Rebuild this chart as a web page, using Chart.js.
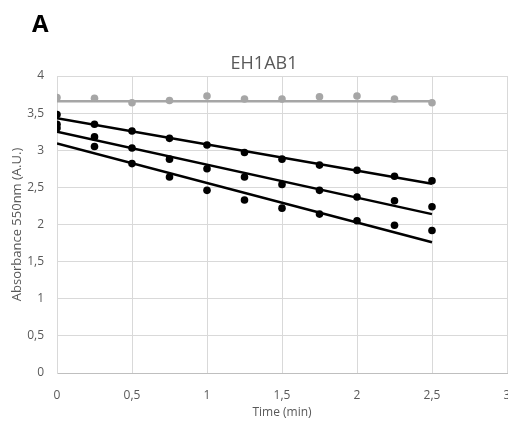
<!DOCTYPE html>
<html>
<head>
<meta charset="utf-8">
<script src="https://cdn.jsdelivr.net/npm/chart.js@4/dist/chart.umd.min.js"></script>
<style>
  html, body { margin: 0; padding: 0; background: #fff; }
  #wrap { position: relative; width: 508px; height: 424px; overflow: hidden; }
  #panel { position: absolute; left: 32px; top: 6px; font: bold 24px "Open Sans", "Liberation Sans", sans-serif; color: #000; }
  #title { position: absolute; left: 0; width: 528px; top: 50px; line-height: 22px; text-align: center;
           font: 18px "Open Sans", "Liberation Sans", sans-serif; color: #595959; }
  canvas { display: block; }
</style>
</head>
<body>
<div id="wrap">
  <canvas id="c" width="508" height="424"></canvas>
  <div id="panel">A</div>
  <div id="title">EH1AB1</div>
</div>
<script>
// Sampling times (min)
const times = [0, 0.25, 0.5, 0.75, 1, 1.25, 1.5, 1.75, 2, 2.25, 2.5];

// Absorbance at 550 nm (A.U.)
const control = [3.71, 3.70, 3.64, 3.67, 3.73, 3.69, 3.69, 3.72, 3.73, 3.69, 3.64];
const run1 = [3.48, 3.35, 3.26, 3.16, 3.07, 2.97, 2.88, 2.80, 2.73, 2.65, 2.59];
const run2 = [3.35, 3.18, 3.03, 2.88, 2.75, 2.64, 2.54, 2.46, 2.37, 2.32, 2.24];
const run3 = [3.30, 3.05, 2.82, 2.64, 2.46, 2.33, 2.22, 2.14, 2.05, 1.99, 1.92];

// Linear trend lines: value at first and last time point
const trendStart = [3.66, 3.43, 3.25, 3.09];
const trendEnd   = [3.66, 2.55, 2.14, 1.76];

const seriesValues = [control, run1, run2, run3];
const seriesColors = ['#a6a6a6', '#000000', '#000000', '#000000'];

const FONT = '"Open Sans", "Liberation Sans", sans-serif';
const GREY_TEXT = '#595959';

const datasets = [];
seriesValues.forEach((vals, i) => {
  datasets.push({
    type: 'line',
    data: [
      { x: times[0], y: trendStart[i] },
      { x: times[times.length - 1], y: trendEnd[i] }
    ],
    borderColor: seriesColors[i],
    borderWidth: 2.5,
    pointRadius: 0,
    fill: false,
    order: 2
  });
  datasets.push({
    type: 'scatter',
    data: times.map((t, k) => ({ x: t, y: vals[k] })),
    backgroundColor: seriesColors[i],
    borderColor: seriesColors[i],
    pointRadius: 3.8,
    pointBorderWidth: 0,
    showLine: false,
    order: 1
  });
});

const commaFmt = v => String(v).replace('.', ',');

new Chart(document.getElementById('c'), {
  data: { datasets },
  options: {
    responsive: false,
    animation: false,
    layout: { autoPadding: false, padding: { left: 0, right: 1, top: 76, bottom: 0 } },
    plugins: {
      legend: { display: false },
      tooltip: { enabled: false },
      title: { display: false }
    },
    scales: {
      x: {
        type: 'linear',
        min: 0, max: 3,
        ticks: { stepSize: 0.5, color: GREY_TEXT, font: { family: FONT, size: 12 }, padding: 15, callback: commaFmt, maxRotation: 0 },
        grid: { color: '#d9d9d9', drawTicks: false },
        border: { color: '#bfbfbf' },
        title: { display: true, text: 'Time (min)', color: GREY_TEXT, font: { family: FONT, size: 12 }, padding: { top: 0, bottom: 4 } },
        afterFit(scale) { scale.height = 51; scale.paddingLeft = 0; scale.paddingRight = 0; }
      },
      y: {
        type: 'linear',
        min: 0, max: 4,
        ticks: { stepSize: 0.5, color: GREY_TEXT, font: { family: FONT, size: 12 }, padding: 13, callback: commaFmt },
        grid: { color: '#d9d9d9', drawTicks: false },
        border: { color: '#d9d9d9' },
        title: { display: true, text: 'Absorbance 550nm (A.U.)', color: GREY_TEXT, font: { family: FONT, size: 13 }, padding: { top: 9, bottom: 0 } },
        afterFit(scale) { scale.width = 57; scale.paddingTop = 0; scale.paddingBottom = 0; }
      }
    }
  }
});
</script>
</body>
</html>
